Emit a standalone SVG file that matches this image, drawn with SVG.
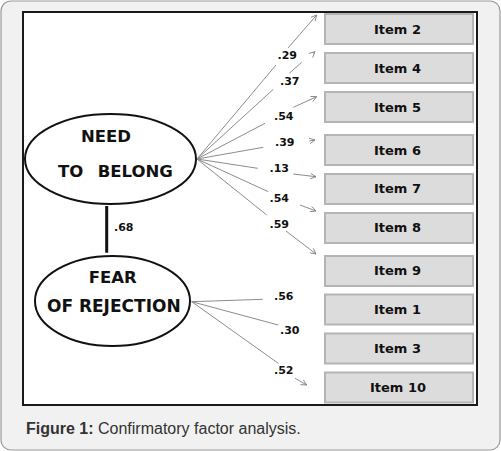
<svg xmlns="http://www.w3.org/2000/svg" width="501" height="451" viewBox="0 0 501 451">
<defs>
<marker id="ah" viewBox="0 0 10 10" refX="9" refY="5" markerWidth="7" markerHeight="7" orient="auto" markerUnits="userSpaceOnUse">
<path d="M1,1 L9,5 L1,9" fill="none" stroke="#808080" stroke-width="1.2"/>
</marker>
<style>
.box{fill:#dcdcdc;stroke:#b4b4b4;stroke-width:2}
.it{font-family:"DejaVu Sans",Verdana,sans-serif;font-weight:bold;font-size:13px;fill:#111;text-anchor:middle}
.lv{font-family:"DejaVu Sans",Verdana,sans-serif;font-weight:bold;font-size:16.5px;fill:#111}
.lb{font-family:"DejaVu Sans",Verdana,sans-serif;font-weight:bold;font-size:11px;fill:#111}
.ln{fill:none;stroke:#8c8c8c;stroke-width:1}
.ell{fill:#fff;stroke:#111;stroke-width:2}
</style>
</defs>
<rect x="1" y="1" width="499" height="449" rx="10" ry="10" fill="#f1f1f1" stroke="#9a9a9a" stroke-width="1.2"/>
<rect x="23" y="12" width="454" height="393" fill="#fff" stroke="#1a1a1a" stroke-width="2"/>

<g id="connectors">
<path class="ln" d="M197,159 L276,65 M288,48 L316.7,15" marker-end="url(#ah)"/>
<path class="ln" d="M197,159 L273.3,89.3 M289.3,73.3 L301.7,62.3 M313,53.5 L315,51.7" marker-end="url(#ah)"/>
<path class="ln" d="M197,159 L265,123.3 M293.3,107.3 L316.7,96.7" marker-end="url(#ah)"/>
<path class="ln" d="M197,159 L263.3,147.3 M309.3,141 L315,140" marker-end="url(#ah)"/>
<path class="ln" d="M197,159 L257.7,168.3 M293.3,174 L316,176.7" marker-end="url(#ah)"/>
<path class="ln" d="M197,159 L268.3,191.7 M300,205 L316,211" marker-end="url(#ah)"/>
<path class="ln" d="M197,159 L266.7,215 M286,231 L316,254" marker-end="url(#ah)"/>
<path class="ln" d="M191.7,301.7 L262.7,299.3"/>
<path class="ln" d="M191.7,301.7 L278.3,325"/>
<path class="ln" d="M191.7,301.7 L278.3,363.3 M295,378.3 L306.7,385" marker-end="url(#ah)"/>
<line x1="106.7" y1="206" x2="106.7" y2="252.7" stroke="#111" stroke-width="3"/>
<text class="lb" x="114" y="230.7">.68</text>
<text class="lb" x="277.5" y="59">.29</text>
<text class="lb" x="280" y="85">.37</text>
<text class="lb" x="274" y="120">.54</text>
<text class="lb" x="275" y="146">.39</text>
<text class="lb" x="269.5" y="171.7">.13</text>
<text class="lb" x="269.5" y="201.7">.54</text>
<text class="lb" x="269.5" y="227.7">.59</text>
<text class="lb" x="274" y="300">.56</text>
<text class="lb" x="280" y="334.3">.30</text>
<text class="lb" x="274" y="374">.52</text>
</g>

<g id="need">
<ellipse class="ell" cx="110.5" cy="159" rx="85.5" ry="45"/>
<text class="lv" x="106" y="141.7" text-anchor="middle">NEED</text>
<text class="lv" x="58" y="176.7">TO</text>
<text class="lv" x="97.7" y="176.7">BELONG</text>
</g>
<g id="fear">
<ellipse class="ell" cx="112.5" cy="301" rx="77.5" ry="45"/>
<text class="lv" x="112.7" y="282.7" text-anchor="middle">FEAR</text>
<text class="lv" x="113.8" y="311.7" text-anchor="middle" style="font-size:17px">OF REJECTION</text>
</g>

<g id="item2"><rect class="box" x="325" y="14" width="148" height="30"/><text class="it" x="397.5" y="33.5">Item 2</text></g>
<g id="item4"><rect class="box" x="325" y="53" width="148" height="30"/><text class="it" x="397.5" y="72.5">Item 4</text></g>
<g id="item5"><rect class="box" x="325" y="92" width="148" height="30"/><text class="it" x="397.5" y="111.5">Item 5</text></g>
<g id="item6"><rect class="box" x="325" y="135" width="148" height="30"/><text class="it" x="397.5" y="154.5">Item 6</text></g>
<g id="item7"><rect class="box" x="325" y="174" width="148" height="30"/><text class="it" x="397.5" y="193">Item 7</text></g>
<g id="item8"><rect class="box" x="325" y="213" width="148" height="30"/><text class="it" x="397.5" y="231.5">Item 8</text></g>
<g id="item9"><rect class="box" x="325" y="256" width="148" height="30"/><text class="it" x="397.5" y="275">Item 9</text></g>
<g id="item1"><rect class="box" x="325" y="294.5" width="148" height="30"/><text class="it" x="397.5" y="314">Item 1</text></g>
<g id="item3"><rect class="box" x="325" y="333.5" width="148" height="30"/><text class="it" x="397.5" y="353">Item 3</text></g>
<g id="item10"><rect class="box" x="325" y="372.5" width="148" height="30"/><text class="it" x="398" y="392">Item 10</text></g>

<text x="26" y="433.5" font-family="'Liberation Sans',Arial,sans-serif" font-size="16" fill="#333"><tspan font-weight="bold">Figure 1:</tspan> Confirmatory factor analysis.</text>
</svg>
